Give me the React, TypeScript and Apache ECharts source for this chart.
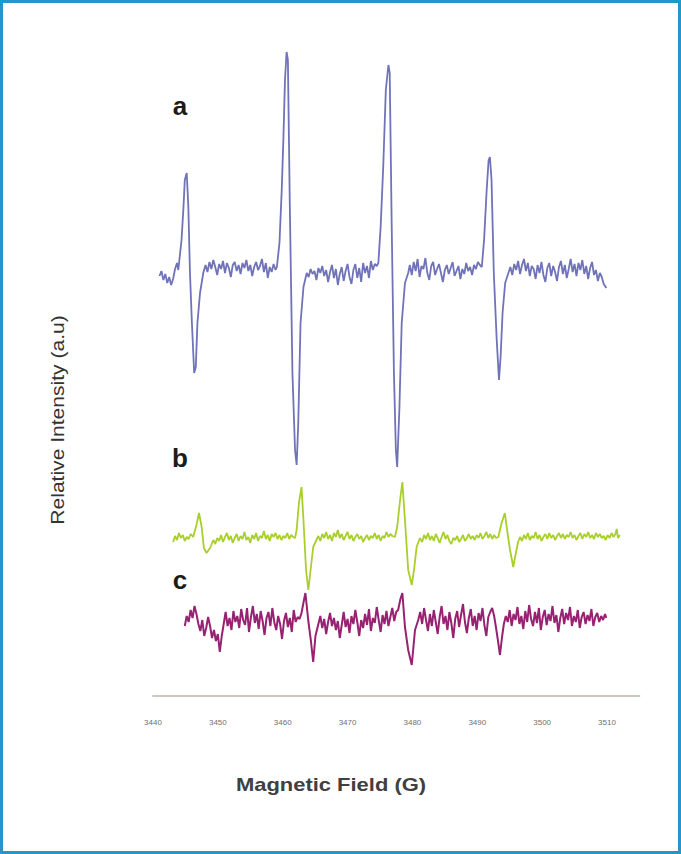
import React, { useEffect, useRef } from "react";
import * as echarts from "echarts";

// Field (G) tick labels
const fieldTicks: number[] = [3440, 3450, 3460, 3470, 3480, 3490, 3500, 3510];

// Trace a: [field (G), relative intensity]
const traceA: [number, number][] = [
  [3441.0,420],[3441.3,425],[3441.6,416],[3441.9,422],[3442.2,413],[3442.5,419],[3442.8,411],[3443.1,417],[3443.4,427],[3443.7,433],[3443.9,426],
  [3444.4,456],[3444.7,489],[3444.9,516],[3445.2,523],[3445.45,489],[3445.7,423],[3446.0,373],[3446.35,323],[3446.6,329],[3446.85,373],[3447.25,403],[3447.75,423],
  [3448.1,431],[3448.4,424],[3448.7,434],[3449.0,427],[3449.3,436],[3449.6,429],[3449.9,421],[3450.2,432],[3450.5,427],[3450.8,435],[3451.1,423],[3451.4,433],[3451.7,428],[3452.0,419],[3452.3,431],[3452.6,434],[3452.9,425],[3453.2,431],[3453.5,422],[3453.8,433],[3454.1,428],[3454.4,436],[3454.7,425],[3455.0,431],[3455.3,420],[3455.6,429],[3455.9,434],[3456.2,426],[3456.5,430],[3456.8,437],[3457.1,424],[3457.4,433],[3457.7,418],[3458.0,429],[3458.3,424],[3458.6,432],[3458.9,426],
  [3459.1,429],[3459.5,453],[3459.85,506],[3460.1,556],[3460.35,616],[3460.6,644],[3460.8,636],[3461.1,489],[3461.5,323],[3461.9,246],[3462.15,231],[3462.4,273],[3462.75,373],[3463.2,409],[3463.7,423],
  [3464.0,419],[3464.3,427],[3464.6,422],[3464.9,425],[3465.2,416],[3465.5,428],[3465.8,423],[3466.1,430],[3466.4,420],[3466.7,426],[3467.0,414],[3467.3,424],[3467.6,431],[3467.9,418],[3468.2,427],[3468.5,411],[3468.8,422],[3469.1,429],[3469.4,415],[3469.7,425],[3470.0,432],[3470.3,419],[3470.6,412],[3470.9,426],[3471.2,432],[3471.5,418],[3471.8,428],[3472.1,414],[3472.4,433],[3472.7,423],[3473.0,430],[3473.3,418],[3473.6,435],[3473.9,426],[3474.2,432],[3474.5,430],
  [3474.75,433],[3475.1,469],[3475.5,529],[3475.9,606],[3476.3,631],[3476.5,623],[3476.8,473],[3477.15,323],[3477.45,246],[3477.65,229],[3478.0,289],[3478.35,373],[3478.85,413],[3479.35,423],
  [3479.6,431],[3479.9,421],[3480.2,434],[3480.5,425],[3480.8,437],[3481.1,419],[3481.4,430],[3481.7,427],[3482.0,438],[3482.3,423],[3482.6,416],[3482.9,430],[3483.2,434],[3483.5,421],[3483.8,427],[3484.1,432],[3484.4,423],[3484.7,414],[3485.0,426],[3485.3,431],[3485.6,422],[3485.9,428],[3486.2,434],[3486.5,420],[3486.8,425],[3487.1,430],[3487.4,417],[3487.7,427],[3488.0,422],[3488.3,433],[3488.6,425],[3488.9,429],[3489.2,421],[3489.5,431],[3489.8,427],[3490.1,434],[3490.4,431],
  [3490.7,429],[3491.05,456],[3491.45,506],[3491.75,536],[3491.95,539],[3492.2,516],[3492.55,423],[3493.0,356],[3493.35,316],[3493.6,339],[3493.9,383],[3494.3,413],[3494.8,423],
  [3495.1,429],[3495.4,421],[3495.7,432],[3496.0,426],[3496.3,435],[3496.6,422],[3496.9,431],[3497.2,437],[3497.5,425],[3497.8,433],[3498.1,420],[3498.4,430],[3498.7,427],[3499.0,417],[3499.3,431],[3499.6,423],[3499.9,434],[3500.2,421],[3500.5,414],[3500.8,428],[3501.1,433],[3501.4,420],[3501.7,430],[3502.0,424],[3502.3,415],[3502.6,429],[3502.9,435],[3503.2,422],[3503.5,431],[3503.8,418],[3504.1,427],[3504.4,437],[3504.7,424],[3505.0,432],[3505.3,420],[3505.6,433],[3505.9,426],[3506.2,436],[3506.5,422],[3506.8,430],[3507.1,417],[3507.4,428],[3507.7,434],[3508.0,421],[3508.3,426],[3508.6,415],[3508.9,423],[3509.2,419],[3509.5,412],[3509.9,408]
];

// Trace b
const traceB: [number, number][] = [
  [3443.1,154],[3443.4,160],[3443.7,156],[3444.0,163],[3444.3,158],[3444.6,161],[3444.9,155],[3445.2,159],[3445.5,157],[3445.8,162],[3446.2,159],[3446.7,171],[3447.1,183],[3447.5,169],[3447.85,148],[3448.25,143],[3448.8,148],[3449.3,156],
  [3449.6,152],[3449.9,158],[3450.2,155],[3450.5,161],[3450.8,154],[3451.1,159],[3451.4,163],[3451.7,156],[3452.0,160],[3452.3,153],[3452.6,158],[3452.9,162],[3453.2,155],[3453.5,160],[3453.8,157],[3454.1,164],[3454.4,156],[3454.7,159],[3455.0,153],[3455.3,161],[3455.6,157],[3455.9,163],[3456.2,155],[3456.5,160],[3456.8,158],[3457.1,165],[3457.4,157],[3457.7,161],[3458.0,155],[3458.3,162],[3458.6,159],[3458.9,163],[3459.2,157],[3459.5,161],[3459.8,156],[3460.1,160],[3460.4,158],[3460.7,163],[3461.0,157],[3461.3,161],[3461.6,159],[3461.9,158],
  [3462.15,166],[3462.5,193],[3462.9,209],[3463.2,176],[3463.6,126],[3463.95,106],[3464.3,126],[3464.7,149],[3465.2,156],
  [3465.5,160],[3465.8,155],[3466.1,162],[3466.4,158],[3466.7,164],[3467.0,157],[3467.3,161],[3467.6,155],[3467.9,163],[3468.2,159],[3468.5,166],[3468.8,158],[3469.1,162],[3469.4,156],[3469.7,160],[3470.0,164],[3470.3,157],[3470.6,161],[3470.9,155],[3471.2,159],[3471.5,162],[3471.8,157],[3472.1,160],[3472.4,154],[3472.7,158],[3473.0,161],[3473.3,156],[3473.6,160],[3473.9,158],[3474.2,163],[3474.5,157],[3474.8,161],[3475.1,155],[3475.4,160],[3475.7,158],[3476.0,164],[3476.3,159],[3476.6,162],[3476.9,160],[3477.3,159],
  [3477.65,169],[3478.1,196],[3478.45,214],[3478.85,176],[3479.35,126],[3479.9,111],[3480.25,126],[3480.65,149],[3481.15,158],
  [3481.5,154],[3481.8,161],[3482.1,157],[3482.4,163],[3482.7,156],[3483.0,160],[3483.3,155],[3483.6,162],[3483.9,158],[3484.2,153],[3484.5,159],[3484.8,164],[3485.1,157],[3485.4,161],[3485.7,155],[3486.0,152],[3486.3,158],[3486.6,156],[3486.9,160],[3487.2,154],[3487.5,157],[3487.8,161],[3488.1,155],[3488.4,158],[3488.7,162],[3489.0,157],[3489.3,160],[3489.6,156],[3489.9,161],[3490.2,158],[3490.5,163],[3490.8,157],[3491.1,160],[3491.4,164],[3491.7,158],[3492.0,162],[3492.3,157],[3492.6,161],[3492.9,158],[3493.25,159],
  [3493.75,173],[3494.25,183],[3494.6,166],[3495.05,146],[3495.55,129],[3495.95,143],[3496.3,154],
  [3496.6,159],[3496.9,155],[3497.2,161],[3497.5,157],[3497.8,163],[3498.1,156],[3498.4,160],[3498.7,158],[3499.0,164],[3499.3,157],[3499.6,161],[3499.9,155],[3500.2,159],[3500.5,162],[3500.8,157],[3501.1,163],[3501.4,158],[3501.7,161],[3502.0,156],[3502.3,160],[3502.6,163],[3502.9,158],[3503.2,162],[3503.5,157],[3503.8,161],[3504.1,159],[3504.4,164],[3504.7,158],[3505.0,161],[3505.3,156],[3505.6,160],[3505.9,163],[3506.2,157],[3506.5,162],[3506.8,159],[3507.1,164],[3507.4,158],[3507.7,161],[3508.0,157],[3508.3,163],[3508.6,159],[3508.9,162],[3509.2,158],[3509.5,160],[3509.8,156],[3510.1,161],[3510.4,158],[3510.7,163],[3511.0,159],[3511.3,162],[3511.5,167],[3511.7,158],[3512.0,161]
];

// Trace c
const traceC: [number, number][] = [
  [3444.9,70],[3445.2,80],[3445.5,74],[3445.8,86],[3446.1,78],[3446.4,90],[3446.7,82],[3447.0,72],[3447.3,65],[3447.6,76],[3447.9,60],[3448.2,68],[3448.5,79],[3448.8,70],[3449.1,58],[3449.4,66],[3449.7,55],[3450.0,62],[3450.3,44],[3450.6,60],[3450.9,72],[3451.2,84],[3451.5,70],[3451.8,78],[3452.1,66],[3452.4,85],[3452.7,74],[3453.0,80],[3453.3,68],[3453.6,87],[3453.9,76],[3454.2,71],[3454.5,88],[3454.8,64],[3455.1,79],[3455.4,90],[3455.7,73],[3456.0,82],[3456.3,67],[3456.6,85],[3456.9,75],[3457.2,61],[3457.5,78],[3457.8,84],[3458.1,70],[3458.4,88],[3458.7,74],[3459.0,66],[3459.3,80],[3459.6,72],[3459.9,57],[3460.2,75],[3460.5,83],[3460.8,69],[3461.1,78],[3461.4,64],[3461.7,86],[3462.0,74],[3462.3,79],[3462.6,77],[3462.9,83],
  [3463.25,95],[3463.5,103],[3463.95,75],[3464.35,55],[3464.7,34],[3465.05,60],[3465.5,72],
  [3465.8,80],[3466.1,68],[3466.4,77],[3466.7,62],[3467.0,74],[3467.3,83],[3467.6,70],[3467.9,78],[3468.2,66],[3468.5,75],[3468.8,58],[3469.1,71],[3469.4,84],[3469.7,69],[3470.0,77],[3470.3,63],[3470.6,80],[3470.9,72],[3471.2,86],[3471.5,74],[3471.8,60],[3472.1,76],[3472.4,68],[3472.7,82],[3473.0,71],[3473.3,87],[3473.6,65],[3473.9,78],[3474.2,73],[3474.5,89],[3474.8,76],[3475.1,64],[3475.4,81],[3475.7,72],[3476.0,85],[3476.3,70],[3476.6,79],[3476.9,88],[3477.2,75],[3477.5,84],[3477.8,86],
  [3478.15,97],[3478.45,103],[3478.85,69],[3479.35,46],[3479.9,31],[3480.4,66],[3480.9,76],
  [3481.2,84],[3481.5,72],[3481.8,88],[3482.1,76],[3482.4,65],[3482.7,82],[3483.0,70],[3483.3,86],[3483.6,74],[3483.9,62],[3484.2,79],[3484.5,90],[3484.8,72],[3485.1,80],[3485.4,66],[3485.7,84],[3486.0,73],[3486.3,58],[3486.6,77],[3486.9,85],[3487.2,69],[3487.5,81],[3487.8,92],[3488.1,74],[3488.4,63],[3488.7,78],[3489.0,87],[3489.3,70],[3489.6,80],[3489.9,66],[3490.2,83],[3490.5,75],[3490.8,88],[3491.1,71],[3491.4,60],[3491.7,79],[3492.0,84],[3492.3,88],[3492.6,80],[3492.9,68],[3493.2,55],[3493.5,41],[3493.8,58],[3494.1,72],[3494.4,80],
  [3494.7,74],[3495.0,86],[3495.3,70],[3495.6,82],[3495.9,76],[3496.2,89],[3496.5,72],[3496.8,80],[3497.1,67],[3497.4,85],[3497.7,74],[3498.0,91],[3498.3,77],[3498.6,70],[3498.9,84],[3499.2,73],[3499.5,88],[3499.8,66],[3500.1,79],[3500.4,86],[3500.7,71],[3501.0,82],[3501.3,75],[3501.6,90],[3501.9,73],[3502.2,81],[3502.5,64],[3502.8,78],[3503.1,87],[3503.4,72],[3503.7,83],[3504.0,76],[3504.3,89],[3504.6,70],[3504.9,80],[3505.2,74],[3505.5,86],[3505.8,68],[3506.1,79],[3506.4,84],[3506.7,72],[3507.0,81],[3507.3,75],[3507.6,87],[3507.9,70],[3508.2,79],[3508.5,83],[3508.8,74],[3509.1,80],[3509.4,76],[3509.7,82],[3509.9,78]
];

const traceNames = ["a", "b", "c"];
const xTitle = "Magnetic Field (G)";
const yTitle = "Relative Intensity (a.u)";

export default function App() {
  const ref = useRef<HTMLDivElement>(null);
  useEffect(() => {
    if (!ref.current) return;
    const chart = echarts.init(ref.current, null, { renderer: "svg" });
    const labelStyle = {
      fontFamily: "Liberation Sans, Arial, sans-serif",
      fontWeight: "bold" as const,
      fontSize: 26,
      fill: "#1c1c1c",
    };
    chart.setOption({
      animation: false,
      backgroundColor: "#ffffff",
      grid: { left: 153, right: 41.6, top: 40, bottom: 158, containLabel: false },
      xAxis: {
        type: "value",
        min: 3440,
        max: 3515,
        interval: 10,
        axisLine: { show: true, lineStyle: { color: "#cdc8c3", width: 2 } },
        axisTick: { show: false },
        splitLine: { show: false },
        axisLabel: {
          fontSize: 8,
          color: "#707070",
          margin: 22,
          fontFamily: "Liberation Sans, Arial, sans-serif",
          formatter: (v: number) => (fieldTicks.indexOf(v) >= 0 ? String(v) : ""),
        },
      },
      yAxis: { type: "value", min: 0, max: 656, show: false },
      series: [
        {
          name: traceNames[0],
          type: "line",
          data: traceA,
          showSymbol: false,
          lineStyle: { color: "#7073b8", width: 1.8 },
        },
        {
          name: traceNames[1],
          type: "line",
          data: traceB,
          showSymbol: false,
          lineStyle: { color: "#a9cf2c", width: 1.8 },
        },
        {
          name: traceNames[2],
          type: "line",
          data: traceC,
          showSymbol: false,
          lineStyle: { color: "#982272", width: 2 },
        },
      ],
      graphic: [
        {
          type: "rect",
          shape: { x: 1.5, y: 1.5, width: 678, height: 851 },
          style: { fill: "none", stroke: "#2596c8", lineWidth: 3 },
          silent: true,
        },
        { type: "text", x: 180, y: 106, style: { ...labelStyle, text: traceNames[0], align: "center", verticalAlign: "middle" } },
        { type: "text", x: 180, y: 458, style: { ...labelStyle, text: traceNames[1], align: "center", verticalAlign: "middle" } },
        { type: "text", x: 180, y: 580, style: { ...labelStyle, text: traceNames[2], align: "center", verticalAlign: "middle" } },
        {
          type: "text",
          x: 331,
          y: 785,
          scaleX: 1.22,
          style: {
            text: xTitle,
            fontFamily: "Liberation Sans, Arial, sans-serif",
            fontSize: 18,
            fontWeight: "bold",
            fill: "#404040",
            align: "center",
            verticalAlign: "middle",
          },
        },
        {
          type: "text",
          x: 58,
          y: 420,
          rotation: Math.PI / 2,
          scaleX: 1.17,
          style: {
            text: yTitle,
            fontFamily: "Liberation Sans, Arial, sans-serif",
            fontSize: 18,
            fill: "#333",
            align: "center",
            verticalAlign: "middle",
          },
        },
      ],
    });
    return () => chart.dispose();
  }, []);
  return (
    <div
      ref={ref}
      style={{ position: "fixed", left: 0, top: 0, width: 681, height: 854 }}
    />
  );
}
